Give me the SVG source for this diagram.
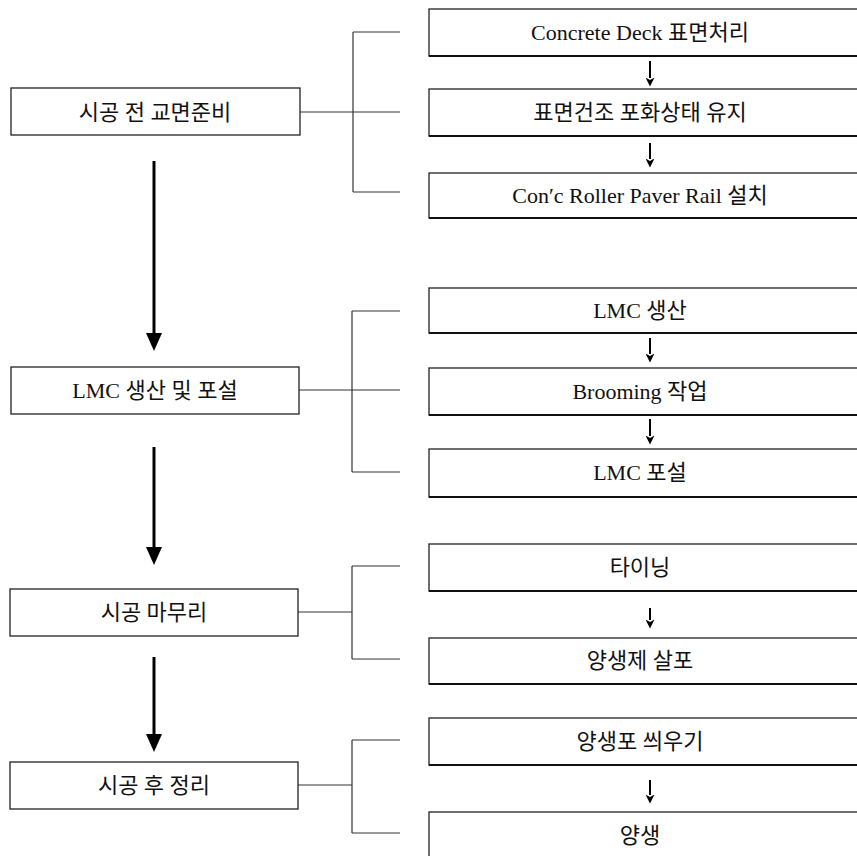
<svg xmlns="http://www.w3.org/2000/svg" width="857" height="856" viewBox="0 0 857 856">
<defs>
<style>
.bg{fill:#fff}
.box{fill:#fff;stroke:#222;stroke-width:1.3}
.bot{stroke:#111;stroke-width:2.2}
.t{font-family:"Liberation Serif","Noto Sans CJK KR",serif;font-size:22px;fill:#111;text-anchor:middle}
.c{fill:none;stroke:#333;stroke-width:1.2}
.big{stroke:#000;stroke-width:3;fill:none}
.sm{stroke:#000;stroke-width:2;fill:none}
</style>
<marker id="bh" viewBox="0 0 18 16" refX="0" refY="8" markerWidth="18" markerHeight="16" markerUnits="userSpaceOnUse" orient="auto">
<path d="M0,0 L18,8 L0,16 Z" fill="#000"/>
</marker>
<marker id="sh" viewBox="0 0 9 9" refX="0.5" refY="4.5" markerWidth="9" markerHeight="9" markerUnits="userSpaceOnUse" orient="auto">
<path d="M0,0 L9,4.5 L0,9 L2.5,4.5 Z" fill="#000"/>
</marker>
</defs>
<rect class="bg" x="0" y="0" width="857" height="856"/>

<g id="connectors">
<line class="c" x1="300" y1="112" x2="353" y2="112"/>
<line class="c" x1="353" y1="32" x2="353" y2="192"/>
<line class="c" x1="353" y1="32" x2="400" y2="32"/>
<line class="c" x1="353" y1="112" x2="400" y2="112"/>
<line class="c" x1="353" y1="192" x2="400" y2="192"/>

<line class="c" x1="299" y1="390" x2="352" y2="390"/>
<line class="c" x1="352" y1="311" x2="352" y2="472"/>
<line class="c" x1="352" y1="311" x2="400" y2="311"/>
<line class="c" x1="352" y1="390" x2="400" y2="390"/>
<line class="c" x1="352" y1="472" x2="400" y2="472"/>

<line class="c" x1="298" y1="612" x2="352" y2="612"/>
<line class="c" x1="352" y1="566" x2="352" y2="659"/>
<line class="c" x1="352" y1="566" x2="400" y2="566"/>
<line class="c" x1="352" y1="659" x2="400" y2="659"/>

<line class="c" x1="298" y1="785" x2="352" y2="785"/>
<line class="c" x1="352" y1="740" x2="352" y2="833"/>
<line class="c" x1="352" y1="740" x2="400" y2="740"/>
<line class="c" x1="352" y1="833" x2="400" y2="833"/>

<line class="big" x1="154" y1="161" x2="154" y2="333" marker-end="url(#bh)"/>
<line class="big" x1="154" y1="447" x2="154" y2="547" marker-end="url(#bh)"/>
<line class="big" x1="154" y1="657" x2="154" y2="734" marker-end="url(#bh)"/>

<line class="sm" x1="650" y1="61" x2="650" y2="78" marker-end="url(#sh)"/>
<line class="sm" x1="650" y1="143" x2="650" y2="159" marker-end="url(#sh)"/>
<line class="sm" x1="650" y1="338" x2="650" y2="354" marker-end="url(#sh)"/>
<line class="sm" x1="650" y1="419" x2="650" y2="436" marker-end="url(#sh)"/>
<line class="sm" x1="650" y1="608" x2="650" y2="620" marker-end="url(#sh)"/>
<line class="sm" x1="650" y1="780" x2="650" y2="795" marker-end="url(#sh)"/>
</g>

<g id="n-prep">
<rect class="box" x="11" y="88" width="289" height="47"/>
<text class="t" x="155" y="120">시공 전 교면준비</text>
</g>
<g id="n-lmc">
<rect class="box" x="11" y="367" width="288" height="47"/>
<text class="t" x="155" y="398">LMC 생산 및 포설</text>
</g>
<g id="n-finish">
<rect class="box" x="10" y="589" width="288" height="47"/>
<text class="t" x="154" y="620">시공 마무리</text>
</g>
<g id="n-post">
<rect class="box" x="10" y="762" width="288" height="47"/>
<text class="t" x="154" y="793">시공 후 정리</text>
</g>

<g id="r-deck">
<rect class="box" x="429" y="9" width="445" height="47"/>
<line class="bot" x1="429" y1="56" x2="857" y2="56"/>
<text class="t" x="640" y="40">Concrete Deck 표면처리</text>
</g>
<g id="r-dry">
<rect class="box" x="429" y="89" width="445" height="47"/>
<line class="bot" x1="429" y1="136" x2="857" y2="136"/>
<text class="t" x="640" y="120">표면건조 포화상태 유지</text>
</g>
<g id="r-rail">
<rect class="box" x="429" y="173" width="445" height="45"/>
<line class="bot" x1="429" y1="218" x2="857" y2="218"/>
<text class="t" x="640" y="203">Con′c Roller Paver Rail 설치</text>
</g>

<g id="r-prod">
<rect class="box" x="429" y="288" width="445" height="45"/>
<line class="bot" x1="429" y1="333" x2="857" y2="333"/>
<text class="t" x="640" y="318">LMC 생산</text>
</g>
<g id="r-broom">
<rect class="box" x="429" y="368" width="445" height="47"/>
<line class="bot" x1="429" y1="415" x2="857" y2="415"/>
<text class="t" x="640" y="399">Brooming 작업</text>
</g>
<g id="r-pave">
<rect class="box" x="429" y="449" width="445" height="48"/>
<line class="bot" x1="429" y1="497" x2="857" y2="497"/>
<text class="t" x="640" y="480">LMC 포설</text>
</g>

<g id="r-tine">
<rect class="box" x="429" y="544" width="445" height="47"/>
<line class="bot" x1="429" y1="591" x2="857" y2="591"/>
<text class="t" x="640" y="575">타이닝</text>
</g>
<g id="r-spray">
<rect class="box" x="429" y="638" width="445" height="46"/>
<line class="bot" x1="429" y1="684" x2="857" y2="684"/>
<text class="t" x="640" y="668">양생제 살포</text>
</g>
<g id="r-cover">
<rect class="box" x="429" y="718" width="445" height="47"/>
<line class="bot" x1="429" y1="765" x2="857" y2="765"/>
<text class="t" x="640" y="749">양생포 씌우기</text>
</g>
<g id="r-cure">
<rect class="box" x="429" y="812" width="445" height="60"/>
<text class="t" x="640" y="843">양생</text>
</g>
</svg>
